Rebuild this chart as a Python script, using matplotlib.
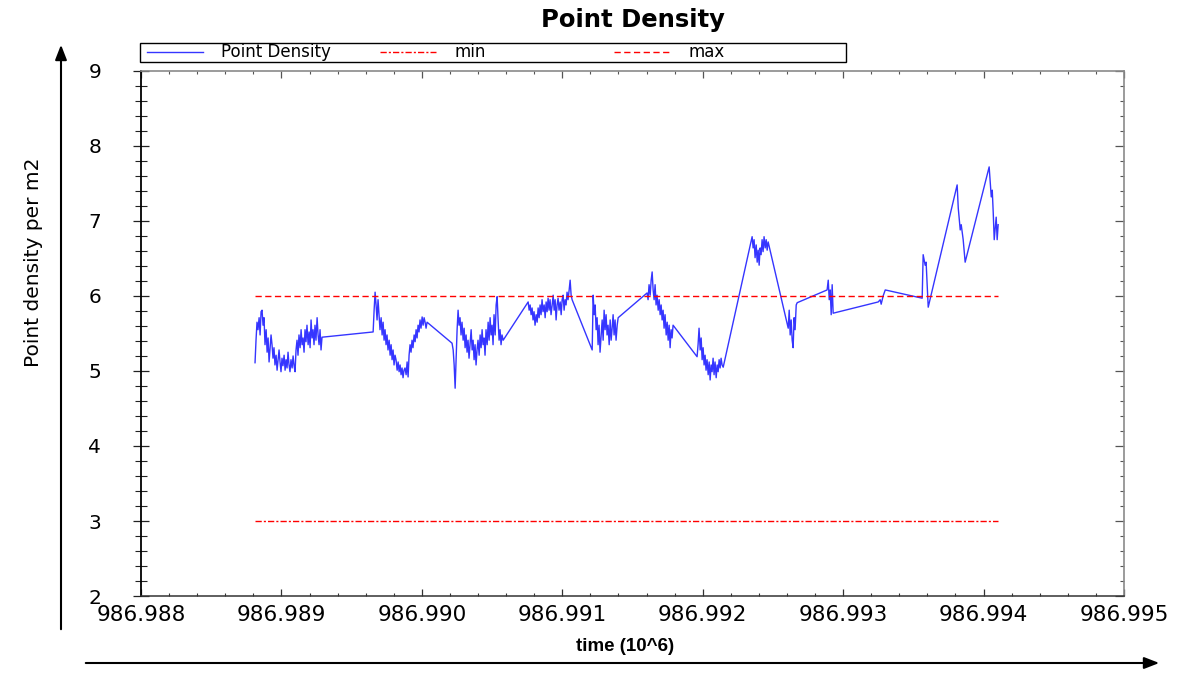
import numpy as np
import matplotlib.pyplot as plt
from matplotlib.legend import Legend
from matplotlib.patches import Rectangle
from matplotlib.ticker import MultipleLocator, FormatStrFormatter

# time is given as seconds after 986,988,000 s; the axis is in units of 10^6 s
t_a = [812, 819, 826, 833, 841, 848, 855, 862, 869, 876,
       883, 891, 898, 905, 912, 919, 926, 933, 940, 947,
       954, 962, 969, 976, 983, 990, 997, 1004, 1011, 1019,
       1026, 1033, 1040, 1047, 1054, 1061, 1068, 1076, 1083, 1090,
       1097, 1104, 1111, 1118, 1125, 1133, 1140, 1147, 1154, 1161,
       1168, 1175, 1182, 1190, 1197, 1204, 1211, 1218, 1225, 1232,
       1239, 1246, 1254, 1261, 1268, 1275, 1282, 1289]
d_a = [5.11, 5.41, 5.65, 5.55, 5.71, 5.48, 5.79, 5.81, 5.61, 5.71,
       5.35, 5.55, 5.25, 5.44, 5.12, 5.31, 5.48, 5.35, 5.17, 5.31,
       5.08, 5.21, 5.01, 5.15, 5.28, 5.12, 4.99, 5.17, 5.07, 5.21,
       5.01, 5.15, 5.04, 5.25, 5.08, 4.99, 5.15, 5.04, 5.20, 5.07,
       4.99, 5.28, 5.41, 5.21, 5.48, 5.31, 5.55, 5.35, 5.44, 5.25,
       5.55, 5.39, 5.61, 5.35, 5.52, 5.31, 5.68, 5.44, 5.55, 5.35,
       5.61, 5.41, 5.71, 5.48, 5.35, 5.55, 5.28, 5.45]

t_b = [1653, 1660, 1667, 1674, 1681, 1688, 1695, 1702, 1710, 1717,
       1724, 1731, 1738, 1745, 1752, 1759, 1767, 1774, 1781, 1788,
       1795, 1802, 1809, 1816, 1824, 1831, 1838, 1845, 1852, 1859,
       1866, 1873, 1880, 1888, 1895, 1902, 1909, 1916, 1923, 1930,
       1937, 1945, 1952, 1959, 1966, 1973, 1980, 1987, 1994, 2002,
       2009, 2016, 2023, 2030, 2037,
       2215, 2223, 2230, 2237, 2244, 2251]
d_b = [5.52, 5.81, 6.05, 5.88, 5.68, 5.95, 5.75, 5.55, 5.71, 5.48,
       5.65, 5.41, 5.55, 5.35, 5.48, 5.28, 5.41, 5.21, 5.35, 5.15,
       5.28, 5.08, 5.21, 5.15, 5.01, 5.12, 4.99, 5.08, 4.95, 5.04,
       4.91, 5.01, 5.04, 4.95, 5.12, 4.92, 5.21, 5.35, 5.25, 5.41,
       5.31, 5.48, 5.39, 5.55, 5.44, 5.61, 5.52, 5.68, 5.57, 5.72,
       5.61, 5.71, 5.65, 5.57, 5.65,
       5.37, 5.28, 5.08, 4.77, 5.15, 5.55]

t_c = [2258, 2265, 2272, 2279, 2286, 2294, 2301, 2308, 2315, 2322,
       2329, 2336, 2343, 2351, 2358, 2365, 2372, 2379, 2386, 2393,
       2400, 2408, 2415, 2422, 2429, 2436, 2443, 2450, 2457, 2465,
       2472, 2479, 2486, 2493, 2500, 2507, 2514, 2522, 2529, 2536,
       2543, 2550, 2557, 2564, 2571, 2579]
d_c = [5.81, 5.61, 5.71, 5.48, 5.65, 5.41, 5.57, 5.31, 5.48, 5.25,
       5.41, 5.17, 5.35, 5.55, 5.28, 5.41, 5.15, 5.35, 5.08, 5.28,
       5.41, 5.21, 5.48, 5.31, 5.55, 5.35, 5.44, 5.21, 5.55, 5.35,
       5.65, 5.41, 5.71, 5.48, 5.61, 5.35, 5.75, 5.48, 5.88, 5.99,
       5.68, 5.41, 5.55, 5.35, 5.48, 5.41]

t_d = [2757, 2764, 2771, 2778, 2785, 2792, 2799, 2806, 2814, 2821,
       2828, 2835, 2842, 2849, 2856, 2863, 2871, 2878, 2885, 2892,
       2899, 2906, 2913, 2920, 2928, 2935, 2942, 2949, 2956, 2963,
       2970, 2977, 2985, 2992, 2999, 3006, 3013, 3020, 3027, 3034,
       3041, 3049, 3056, 3063, 3070, 3213]
d_d = [5.92, 5.81, 5.88, 5.75, 5.84, 5.68, 5.79, 5.61, 5.75, 5.65,
       5.84, 5.71, 5.88, 5.75, 5.95, 5.79, 5.88, 5.71, 5.92, 5.79,
       5.97, 5.81, 5.95, 5.75, 5.88, 6.01, 5.81, 5.95, 5.68, 5.88,
       5.97, 5.81, 5.92, 5.75, 5.95, 6.01, 5.81, 5.95, 5.88, 6.05,
       5.95, 6.08, 6.21, 6.01, 5.95, 5.28]

t_e = [3220, 3227, 3234, 3241, 3248, 3255, 3262, 3269, 3277, 3284,
       3291, 3298, 3305, 3312, 3319, 3326, 3334, 3341, 3348, 3355,
       3362, 3369, 3376, 3383, 3391, 3398]
d_e = [6.01, 5.75, 5.88, 5.55, 5.71, 5.35, 5.61, 5.25, 5.48, 5.68,
       5.41, 5.81, 5.55, 5.75, 5.48, 5.61, 5.35, 5.68, 5.41, 5.57,
       5.75, 5.48, 5.68, 5.41, 5.61, 5.71]

t_f = [3604, 3611, 3618, 3626, 3633, 3640, 3647, 3654, 3661, 3668,
       3675, 3683, 3690, 3697, 3704, 3711, 3718, 3725, 3732, 3740,
       3747, 3754, 3761, 3768, 3775, 3782, 3789]
d_f = [6.04, 5.95, 6.15, 6.01, 6.21, 6.32, 6.08, 5.95, 6.15, 5.88,
       6.01, 5.81, 5.95, 5.75, 5.88, 5.68, 5.81, 5.57, 5.75, 5.48,
       5.65, 5.41, 5.61, 5.31, 5.55, 5.44, 5.61]

t_g = [3960, 3967, 3974, 3982, 3989, 3996, 4003, 4010, 4017, 4024,
       4031, 4039, 4046, 4053, 4060, 4067, 4074, 4081, 4088, 4096,
       4103, 4110, 4117, 4124, 4131, 4138, 4146]
d_g = [5.19, 5.35, 5.57, 5.28, 5.44, 5.15, 5.31, 5.08, 5.21, 5.01,
       5.15, 4.95, 5.12, 4.88, 5.08, 4.99, 5.17, 4.95, 5.12, 4.91,
       5.08, 4.99, 5.15, 5.04, 5.17, 5.08, 5.05]

t_h = [4352, 4359, 4366, 4373, 4381, 4388, 4395, 4402, 4409, 4416,
       4423, 4430, 4437, 4445, 4452, 4459, 4466]
d_h = [6.79, 6.64, 6.75, 6.51, 6.68, 6.45, 6.61, 6.41, 6.64, 6.55,
       6.75, 6.59, 6.79, 6.64, 6.75, 6.61, 6.72]

t_i = [4609, 4616, 4623, 4630, 4637, 4644, 4651, 4658, 4666, 4673,
       4886, 4894, 4901, 4908, 4915, 4922, 4929,
       5250, 5264, 5271, 5285, 5300]
d_i = [5.57, 5.81, 5.48, 5.68, 5.41, 5.31, 5.71, 5.55, 5.88, 5.91,
       6.08, 6.21, 5.95, 6.08, 5.75, 6.15, 5.77,
       5.92, 5.95, 5.89, 6.00, 6.08]

t_j = [5563, 5570, 5584, 5591, 5606, 5812, 5820, 5834, 5841, 5855, 5869,
       6040, 6055, 6062, 6069, 6076, 6090, 6097, 6104]
d_j = [5.97, 6.55, 6.41, 6.45, 5.85, 7.48, 7.17, 6.88, 6.95, 6.75, 6.45,
       7.72, 7.32, 7.41, 7.11, 6.75, 7.05, 6.75, 6.95]

min_level = 3
max_level = 6

time_s = np.concatenate([t_a, t_b, t_c, t_d, t_e, t_f, t_g, t_h, t_i, t_j])
density = np.concatenate([d_a, d_b, d_c, d_d, d_e, d_f, d_g, d_h, d_i, d_j])
time = 986.988 + time_s / 1e6

fig = plt.figure(figsize=(11.82, 6.75), dpi=100)
ax = fig.add_axes([0.1193, 0.117, 0.8316, 0.778])

l_pd, = ax.plot(time, density, color='#3535ff', lw=1.0, label='Point Density')
l_min, = ax.plot([time[0], time[-1]], [min_level, min_level], color='red', lw=1.0,
                 dashes=(4.5, 1.5, 1.5, 1.5), label='min')
l_max, = ax.plot([time[0], time[-1]], [max_level, max_level], color='red', lw=1.0,
                 dashes=(4.5, 2.5), label='max')

ax.set_xlim(986.988, 986.995)
ax.set_ylim(2, 9)
ax.xaxis.set_major_locator(MultipleLocator(0.001))
ax.xaxis.set_minor_locator(MultipleLocator(0.0002))
ax.xaxis.set_major_formatter(FormatStrFormatter('%.3f'))
ax.yaxis.set_major_locator(MultipleLocator(1))
ax.yaxis.set_minor_locator(MultipleLocator(0.2))

# spines: dark left/bottom, grey top/right
ax.spines['left'].set_color('black')
ax.spines['left'].set_linewidth(1.3)
ax.spines['bottom'].set_color('#333333')
ax.spines['bottom'].set_linewidth(1.1)
for s in ['top', 'right']:
    ax.spines[s].set_color('#8a8a8a')
    ax.spines[s].set_linewidth(1.2)

ax.tick_params(axis='x', which='both', direction='in', bottom=True, top=False,
               color='#333333')
ax.tick_params(axis='x', which='major', length=5, width=0.9, labelsize=15.5, pad=6.5)
ax.tick_params(axis='x', which='minor', length=2.5, width=0.8)
ax.tick_params(axis='y', which='both', direction='inout', left=True, right=False,
               color='#222222')
ax.tick_params(axis='y', which='major', length=11.5, width=0.9, labelsize=14.5,
               pad=23)
ax.tick_params(axis='y', which='minor', length=8.5, width=0.8)

top = ax.secondary_xaxis('top')
top.xaxis.set_major_locator(MultipleLocator(0.001))
top.xaxis.set_minor_locator(MultipleLocator(0.0002))
top.tick_params(which='both', direction='in', labeltop=False, color='#555555')
top.tick_params(which='major', length=5, width=0.9)
top.tick_params(which='minor', length=2.5, width=0.8)
top.spines['top'].set_visible(False)

right = ax.secondary_yaxis('right')
right.yaxis.set_major_locator(MultipleLocator(1))
right.yaxis.set_minor_locator(MultipleLocator(0.2))
right.tick_params(which='both', direction='in', labelright=False, color='#555555')
right.tick_params(which='major', length=6.5, width=0.9)
right.tick_params(which='minor', length=2.8, width=0.8)
right.spines['right'].set_visible(False)

ax.set_xlabel('time (10^6)', fontsize=13.5, fontweight='bold',
              family='Liberation Sans', va='top')
ax.xaxis.set_label_coords(0.492, -0.08)
ax.set_ylabel('Point density per m2', fontsize=14.5, family='DejaVu Sans')
ax.yaxis.set_label_coords(-0.1, 0.636)

ax.set_title('Point Density', fontsize=17.5, fontweight='bold', y=1.084, pad=0)

# legend: one boxed row above the plot with three evenly spaced entries
ax.add_patch(Rectangle((-0.001, 1.0177), 0.7182, 0.035, transform=ax.transAxes,
                       facecolor='white', edgecolor='black', lw=1.0,
                       clip_on=False, zorder=5))
for line, x0 in zip([l_pd, l_min, l_max], [0.0061, 0.2431, 0.4812]):
    leg = Legend(ax, [line], [line.get_label()], loc='center left',
                 bbox_to_anchor=(x0, 1.0352), frameon=False, borderpad=0,
                 borderaxespad=0, handlelength=3.35, handletextpad=1.1,
                 fontsize=12)
    leg.set_zorder(6)
    ax.add_artist(leg)

# outer arrows framing the plot
ax.annotate('', xy=(61 / 1182, 1 - 42 / 675), xytext=(61 / 1182, 1 - 632 / 675),
            xycoords='figure fraction', textcoords='figure fraction',
            arrowprops=dict(arrowstyle='-|>,head_length=0.9,head_width=0.35',
                            color='black', lw=1.5))
ax.annotate('', xy=(1162 / 1182, 1 - 663 / 675), xytext=(83 / 1182, 1 - 663 / 675),
            xycoords='figure fraction', textcoords='figure fraction',
            arrowprops=dict(arrowstyle='-|>,head_length=0.9,head_width=0.35',
                            color='black', lw=1.5))

fig.savefig('out.png', dpi=100)
